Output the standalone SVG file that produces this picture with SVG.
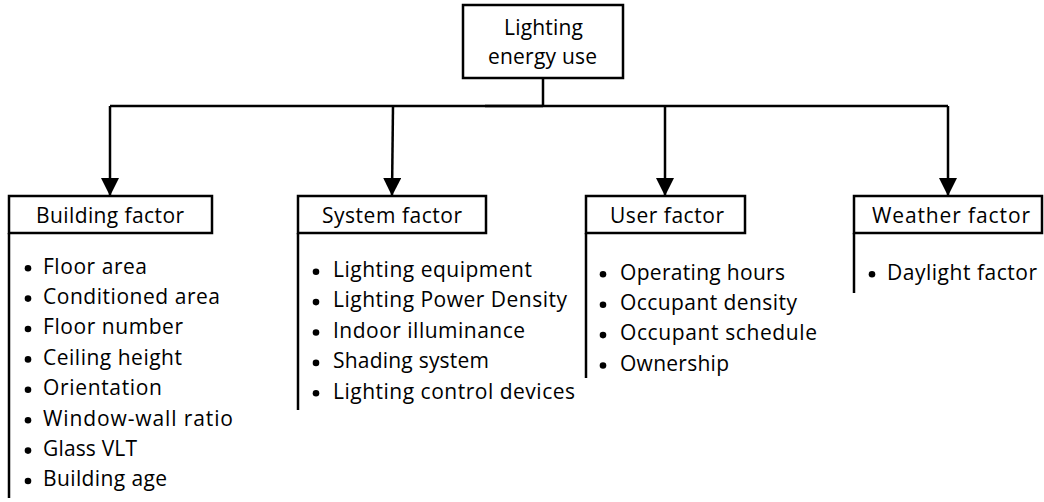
<svg xmlns="http://www.w3.org/2000/svg" width="1044" height="502" viewBox="0 0 1044 502">
<style>
  .box { fill: #ffffff; stroke: #000000; stroke-width: 2.5; }
  .rail { fill: none; stroke: #000000; stroke-width: 2.5; }
  .conn { fill: none; stroke: #000000; stroke-width: 2.5; }
  .t { font-family: "Open Sans", "Noto Sans", "Liberation Sans", sans-serif; font-size: 21px; fill: #000000; }
  .c { text-anchor: middle; }
  .dot { fill: #000000; }
</style>
<defs>
  <marker id="arrow" markerUnits="userSpaceOnUse" markerWidth="18" markerHeight="19" refX="17" refY="9" orient="auto">
    <polygon points="0,0 18,9 0,18" fill="#000000"/>
  </marker>
</defs>

<g id="connectors">
  <path class="conn" d="M543 78 V106"/>
  <path class="conn" d="M110 106 H948"/>
  <path class="conn" d="M485 106 H543" stroke-width="3.5"/>
  <path class="conn" d="M110 106 V195" marker-end="url(#arrow)"/>
  <path class="conn" d="M393 106 L392 195" marker-end="url(#arrow)"/>
  <path class="conn" d="M665 106 V195" marker-end="url(#arrow)"/>
  <path class="conn" d="M948 106 V195" marker-end="url(#arrow)"/>
</g>

<g id="root">
  <rect class="box" x="463" y="5" width="160" height="73"/>
  <text class="t c" x="543.5" y="35" textLength="79">Lighting</text>
  <text class="t c" x="542.5" y="63.5" textLength="109">energy use</text>
</g>

<g id="building">
  <line class="rail" x1="9" y1="233" x2="9" y2="498"/>
  <rect class="box" x="9" y="196" width="203" height="37"/>
  <text class="t c" x="110" y="223" textLength="148">Building factor</text>
  <circle class="dot" cx="28" cy="268.2" r="3.3"/>
  <text class="t" x="43" y="273.5" textLength="104">Floor area</text>
  <circle class="dot" cx="28" cy="298.6" r="3.3"/>
  <text class="t" x="43" y="303.9" textLength="177">Conditioned area</text>
  <circle class="dot" cx="28" cy="329" r="3.3"/>
  <text class="t" x="43" y="334.3" textLength="140">Floor number</text>
  <circle class="dot" cx="28" cy="359.4" r="3.3"/>
  <text class="t" x="43" y="364.7" textLength="139">Ceiling height</text>
  <circle class="dot" cx="28" cy="389.8" r="3.3"/>
  <text class="t" x="43" y="395.1" textLength="119">Orientation</text>
  <circle class="dot" cx="28" cy="420.2" r="3.3"/>
  <text class="t" x="43" y="425.5" textLength="190">Window-wall ratio</text>
  <circle class="dot" cx="28" cy="450.6" r="3.3"/>
  <text class="t" x="43" y="455.9" textLength="94">Glass VLT</text>
  <circle class="dot" cx="28" cy="481" r="3.3"/>
  <text class="t" x="43" y="486.3" textLength="124">Building age</text>
</g>

<g id="system">
  <line class="rail" x1="298" y1="233" x2="298" y2="410"/>
  <rect class="box" x="298" y="196" width="188" height="37"/>
  <text class="t c" x="392" y="223" textLength="140">System factor</text>
  <circle class="dot" cx="316" cy="271.7" r="3.3"/>
  <text class="t" x="333" y="277" textLength="199">Lighting equipment</text>
  <circle class="dot" cx="316" cy="302.1" r="3.3"/>
  <text class="t" x="333" y="307.4" textLength="234">Lighting Power Density</text>
  <circle class="dot" cx="316" cy="332.5" r="3.3"/>
  <text class="t" x="333" y="337.8" textLength="192">Indoor illuminance</text>
  <circle class="dot" cx="316" cy="362.9" r="3.3"/>
  <text class="t" x="333" y="368.2" textLength="156">Shading system</text>
  <circle class="dot" cx="316" cy="393.3" r="3.3"/>
  <text class="t" x="333" y="398.6" textLength="242">Lighting control devices</text>
</g>

<g id="user">
  <line class="rail" x1="586" y1="233" x2="586" y2="378"/>
  <rect class="box" x="586" y="196" width="159" height="37"/>
  <text class="t c" x="667" y="223" textLength="114">User factor</text>
  <circle class="dot" cx="603" cy="274.3" r="3.3"/>
  <text class="t" x="620" y="279.6" textLength="165">Operating hours</text>
  <circle class="dot" cx="603" cy="304.7" r="3.3"/>
  <text class="t" x="620" y="310" textLength="177">Occupant density</text>
  <circle class="dot" cx="603" cy="335.1" r="3.3"/>
  <text class="t" x="620" y="340.4" textLength="197">Occupant schedule</text>
  <circle class="dot" cx="603" cy="365.5" r="3.3"/>
  <text class="t" x="620" y="370.8" textLength="109">Ownership</text>
</g>

<g id="weather">
  <line class="rail" x1="854" y1="233" x2="854" y2="293"/>
  <rect class="box" x="854" y="196" width="188" height="37"/>
  <text class="t c" x="951" y="223" textLength="158">Weather factor</text>
  <circle class="dot" cx="872" cy="274.3" r="3.3"/>
  <text class="t" x="887" y="279.6" textLength="150">Daylight factor</text>
</g>
</svg>
